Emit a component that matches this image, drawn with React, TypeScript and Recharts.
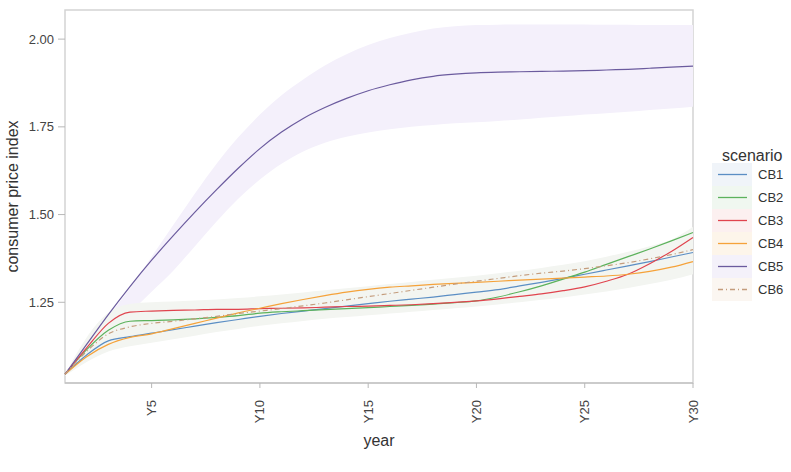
import React from "react";
import {
  ComposedChart,
  Line,
  Area,
  XAxis,
  YAxis,
  ReferenceArea,
} from "recharts";

const FONT = "'Liberation Sans', Arial, sans-serif";

const years = Array.from({ length: 30 }, (_, i) => i + 1);

const cb1 = [1.045, 1.1, 1.14, 1.152, 1.162, 1.172, 1.182, 1.192, 1.201, 1.21, 1.218, 1.225, 1.232, 1.239, 1.246, 1.253, 1.259, 1.265, 1.272, 1.279, 1.286, 1.297, 1.307, 1.318, 1.33, 1.342, 1.354, 1.366, 1.379, 1.392];
const cb2 = [1.045, 1.115, 1.17, 1.196, 1.198, 1.2, 1.203, 1.207, 1.212, 1.219, 1.223, 1.226, 1.229, 1.232, 1.235, 1.238, 1.241, 1.245, 1.249, 1.254, 1.265, 1.28, 1.297, 1.316, 1.336, 1.358, 1.38, 1.402, 1.425, 1.449];
const cb3 = [1.045, 1.12, 1.19, 1.222, 1.225, 1.227, 1.228, 1.23, 1.23, 1.232, 1.233, 1.234, 1.236, 1.238, 1.239, 1.241, 1.243, 1.246, 1.25, 1.254, 1.26, 1.267, 1.274, 1.283, 1.294, 1.31, 1.33, 1.36, 1.395, 1.435];
const cb4 = [1.045, 1.095, 1.13, 1.15, 1.16, 1.175, 1.19, 1.205, 1.22, 1.233, 1.246, 1.258, 1.269, 1.279, 1.287, 1.293, 1.297, 1.301, 1.304, 1.307, 1.31, 1.313, 1.316, 1.319, 1.322, 1.325, 1.33, 1.338, 1.35, 1.366];
const cb5 = [1.045, 1.13, 1.215, 1.295, 1.37, 1.44, 1.507, 1.571, 1.632, 1.688, 1.735, 1.774, 1.805, 1.831, 1.853, 1.87, 1.884, 1.894, 1.9, 1.904, 1.906, 1.907, 1.908, 1.909, 1.91, 1.912, 1.914, 1.917, 1.92, 1.923];
const cb6 = [1.045, 1.11, 1.16, 1.18, 1.19, 1.196, 1.203, 1.21, 1.218, 1.225, 1.232, 1.24, 1.248, 1.257, 1.266, 1.275, 1.284, 1.293, 1.302, 1.31, 1.318, 1.326, 1.333, 1.339, 1.346, 1.354, 1.363, 1.374, 1.386, 1.4];

// CB5 uncertainty band
const cb5Low = [1.045, 1.1, 1.16, 1.22, 1.28, 1.34, 1.41, 1.48, 1.545, 1.6, 1.645, 1.68, 1.705, 1.722, 1.734, 1.743, 1.75, 1.755, 1.76, 1.763, 1.767, 1.771, 1.776, 1.78, 1.785, 1.789, 1.793, 1.798, 1.802, 1.807];
const cb5High = [1.045, 1.13, 1.21, 1.29, 1.38, 1.47, 1.56, 1.645, 1.72, 1.785, 1.84, 1.885, 1.925, 1.957, 1.983, 2.003, 2.018, 2.03, 2.037, 2.04, 2.041, 2.042, 2.042, 2.042, 2.042, 2.041, 2.041, 2.04, 2.04, 2.04];

// envelope of the other scenarios
const restLow = [1.04, 1.08, 1.11, 1.125, 1.135, 1.145, 1.155, 1.165, 1.174, 1.183, 1.19, 1.197, 1.203, 1.208, 1.213, 1.218, 1.223, 1.228, 1.233, 1.238, 1.244, 1.25, 1.257, 1.264, 1.272, 1.281, 1.291, 1.302, 1.314, 1.33];
const restHigh = [1.045, 1.15, 1.22, 1.245, 1.25, 1.252, 1.255, 1.258, 1.262, 1.267, 1.272, 1.278, 1.284, 1.29, 1.296, 1.302, 1.308, 1.314, 1.32, 1.326, 1.333, 1.34, 1.348, 1.357, 1.367, 1.38, 1.394, 1.41, 1.428, 1.465];

const xTicks = [5, 10, 15, 20, 25, 30];
const yTicks = [1.25, 1.5, 1.75, 2.0];

const SERIES = [
  { key: "CB1", color: "#5b8ec4", bg: "#f0f4f9", dash: undefined as string | undefined },
  { key: "CB2", color: "#5cb25c", bg: "#f0f7f0", dash: undefined },
  { key: "CB3", color: "#e0444e", bg: "#fcf0f0", dash: undefined },
  { key: "CB4", color: "#f5a23a", bg: "#fdf5ea", dash: undefined },
  { key: "CB5", color: "#6b5b9e", bg: "#f4f1fa", dash: undefined },
  { key: "CB6", color: "#c49c7c", bg: "#fbf6f1", dash: "5 3 1 3" },
];

const data = years.map((year, i) => ({
  year,
  CB1: cb1[i],
  CB2: cb2[i],
  CB3: cb3[i],
  CB4: cb4[i],
  CB5: cb5[i],
  CB6: cb6[i],
  cb5Band: [cb5Low[i], cb5High[i]],
  restBand: [restLow[i], restHigh[i]],
}));

const XTick = ({ x, y, payload }: any) => (
  <text
    x={x}
    y={y + 10}
    transform={`rotate(-90, ${x}, ${y + 10})`}
    textAnchor="end"
    dy="0.35em"
    fontSize={13}
    fontFamily={FONT}
    fill="#444"
  >
    {`Y${payload.value}`}
  </text>
);

const YTitle = ({ viewBox }: any) => {
  const cy = viewBox ? viewBox.y + viewBox.height / 2 : 196;
  return (
    <text
      x={12}
      y={cy}
      transform={`rotate(-90, 12, ${cy})`}
      textAnchor="middle"
      dy="0.35em"
      fontSize={16}
      fontFamily={FONT}
      fill="#333"
    >
      consumer price index
    </text>
  );
};

const ScenarioLegend = () => (
  <div style={{ position: "absolute", left: 712, top: 148, fontFamily: FONT }}>
    <div style={{ fontSize: 16, lineHeight: "16px", color: "#333", marginLeft: 10, marginBottom: -1 }}>scenario</div>
    {SERIES.map((s) => (
      <div key={s.key} style={{ display: "flex", alignItems: "center", height: 23 }}>
        <svg width={40} height={23} style={{ background: s.bg, display: "block" }}>
          <line x1={6} x2={35} y1={11.5} y2={11.5} stroke={s.color} strokeWidth={1.3} strokeDasharray={s.dash} />
        </svg>
        <span style={{ fontSize: 13, color: "#333", marginLeft: 6 }}>{s.key}</span>
      </div>
    ))}
  </div>
);

export default function App() {
  return (
    <div style={{ position: "fixed", left: 0, top: 0, width: 791, height: 472, background: "#fff" }}>
      <ComposedChart
        width={791}
        height={472}
        data={data}
        margin={{ top: 10, right: 98, bottom: 0, left: 0 }}
      >
        <XAxis
          dataKey="year"
          type="number"
          domain={[1, 30]}
          ticks={xTicks}
          tick={<XTick />}
          tickSize={5}
          axisLine={{ stroke: "#b8b8b8" }}
          tickLine={{ stroke: "#b8b8b8" }}
          height={89}
          label={{ value: "year", position: "insideBottom", offset: 26, fontSize: 16, fill: "#333", fontFamily: FONT }}
        />
        <YAxis
          type="number"
          domain={[1.02, 2.083]}
          ticks={yTicks}
          tickFormatter={(v: number) => v.toFixed(2)}
          tick={{ fontSize: 13, fill: "#444", fontFamily: FONT }}
          tickSize={7}
          tickMargin={4}
          axisLine={false}
          tickLine={{ stroke: "#b8b8b8" }}
          width={65}
          label={<YTitle />}
        />
        <ReferenceArea x1={1} x2={30} y1={1.02} y2={2.083} fill="none" stroke="#d4d4d4" strokeWidth={1.5} />
        <Area dataKey="cb5Band" type="monotone" stroke="none" fill="#f4f0fb" fillOpacity={1} isAnimationActive={false} />
        <Area dataKey="restBand" type="monotone" stroke="none" fill="#f3f5f1" fillOpacity={1} isAnimationActive={false} />
        {SERIES.map((s) => (
          <Line
            key={s.key}
            dataKey={s.key}
            type="monotone"
            stroke={s.color}
            strokeWidth={1.2}
            strokeDasharray={s.dash}
            dot={false}
            activeDot={false}
            isAnimationActive={false}
          />
        ))}
      </ComposedChart>
      <ScenarioLegend />
    </div>
  );
}
